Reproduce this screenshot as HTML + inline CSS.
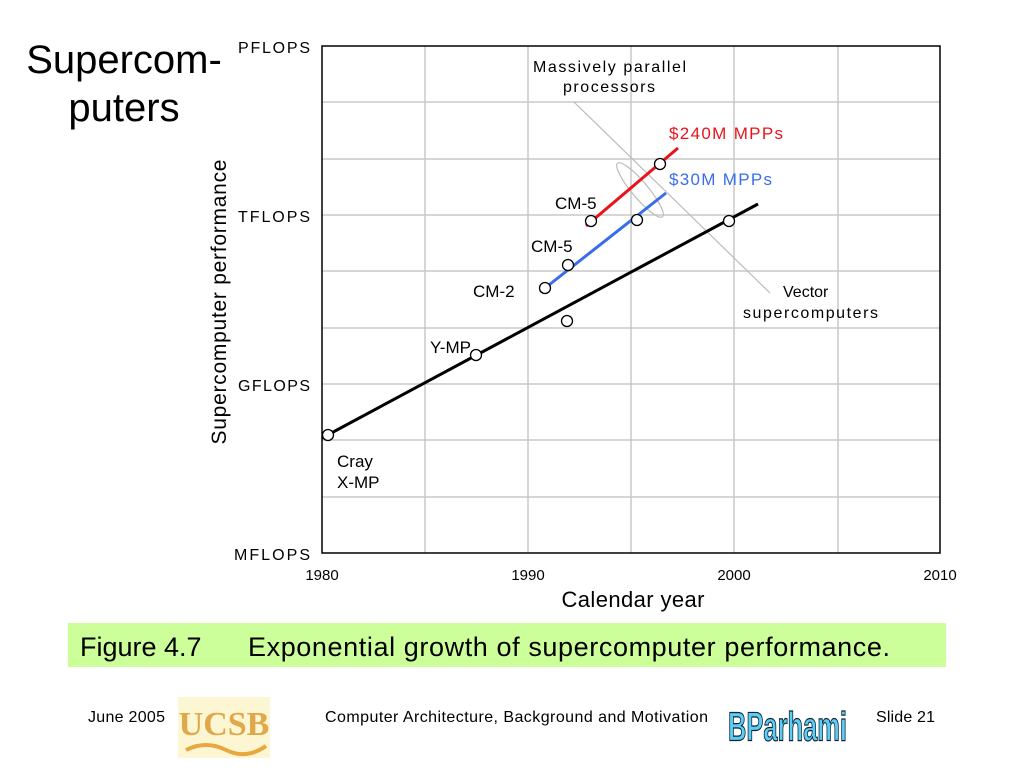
<!DOCTYPE html>
<html><head><style>
body{margin:0;width:1024px;height:768px;background:#fff;font-family:"Liberation Sans",sans-serif;position:relative;overflow:hidden}
.t{position:absolute;white-space:nowrap}
</style></head><body>
<div class="t" style="left:26px;top:36px;font-size:40px;line-height:48px;text-align:center;width:196px">Supercom-<br>puters</div>
<svg width="1024" height="768" style="position:absolute;left:0;top:0" font-family="Liberation Sans, sans-serif">
<g stroke="#c8c8c8" stroke-width="1.5">
<line x1="425" y1="46" x2="425" y2="553"/><line x1="528" y1="46" x2="528" y2="553"/><line x1="631" y1="46" x2="631" y2="553"/><line x1="734" y1="46" x2="734" y2="553"/><line x1="838" y1="46" x2="838" y2="553"/>
<line x1="322" y1="497" x2="940" y2="497"/><line x1="322" y1="440" x2="940" y2="440"/><line x1="322" y1="384" x2="940" y2="384"/><line x1="322" y1="328" x2="940" y2="328"/><line x1="322" y1="271" x2="940" y2="271"/><line x1="322" y1="215" x2="940" y2="215"/><line x1="322" y1="159" x2="940" y2="159"/><line x1="322" y1="102" x2="940" y2="102"/>
</g>
<rect x="322" y="46" width="618" height="507" fill="none" stroke="#000" stroke-width="1.5"/>
<g stroke="#bbb" stroke-width="1.2" fill="none">
<line x1="574" y1="102" x2="770" y2="293"/>
<ellipse cx="640" cy="190" rx="8" ry="35" transform="rotate(-40 640 190)"/>
</g>
<line x1="322" y1="438" x2="758" y2="204" stroke="#000" stroke-width="3"/>
<line x1="540" y1="292" x2="666" y2="193" stroke="#3a6ee8" stroke-width="3"/>
<line x1="586" y1="226" x2="678" y2="148" stroke="#e8141a" stroke-width="3"/>
<g fill="#fff" stroke="#000" stroke-width="1.3">
<circle cx="328" cy="435" r="5.5"/><circle cx="476" cy="355" r="5.5"/><circle cx="567" cy="321" r="5.5"/><circle cx="729" cy="221" r="5.5"/>
<circle cx="545" cy="288" r="5.5"/><circle cx="568" cy="265" r="5.5"/><circle cx="637" cy="220" r="5.5"/>
<circle cx="591" cy="221" r="5.5"/><circle cx="660" cy="164" r="5.5"/>
</g>
<g font-size="16" fill="#000">
<text x="310" y="53" text-anchor="end" textLength="72">PFLOPS</text>
<text x="310" y="222" text-anchor="end" textLength="72">TFLOPS</text>
<text x="310" y="391" text-anchor="end" textLength="72">GFLOPS</text>
<text x="310" y="560" text-anchor="end" textLength="76">MFLOPS</text>
<text x="322" y="580" text-anchor="middle" font-size="15">1980</text>
<text x="528" y="580" text-anchor="middle" font-size="15">1990</text>
<text x="734" y="580" text-anchor="middle" font-size="15">2000</text>
<text x="940" y="580" text-anchor="middle" font-size="15">2010</text>
<text x="337" y="467" font-size="17">Cray</text><text x="337" y="488" font-size="17">X-MP</text>
<text x="430" y="353" font-size="17">Y-MP</text>
<text x="473" y="297" font-size="17">CM-2</text>
<text x="531" y="252" font-size="17">CM-5</text>
<text x="555" y="209" font-size="17">CM-5</text>
<text x="533" y="72" textLength="153">Massively parallel</text>
<text x="563" y="92" textLength="92">processors</text>
<text x="783" y="297">Vector</text>
<text x="743" y="318" textLength="135">supercomputers</text>
<text x="669" y="139" fill="#e8141a" font-size="17" textLength="114">$240M MPPs</text>
<text x="669" y="185" fill="#3a6ee8" font-size="17" textLength="103">$30M MPPs</text>
</g>
<text x="633" y="607" font-size="22" text-anchor="middle" textLength="143">Calendar year</text>
<text transform="translate(226,302) rotate(-90)" font-size="21" text-anchor="middle" textLength="285">Supercomputer performance</text>
<rect x="68" y="623" width="878" height="44" fill="#ccff99"/>
<text x="80" y="656" font-size="27">Figure 4.7</text>
<text x="248" y="656" font-size="27" textLength="642">Exponential growth of supercomputer performance.</text>
<g font-size="16">
<text x="88" y="722" textLength="77">June 2005</text>
<text x="325" y="722" textLength="383">Computer Architecture, Background and Motivation</text>
<text x="876" y="722" textLength="59">Slide 21</text>
</g>
<rect x="178" y="697" width="92" height="61" fill="#fdf6d2"/>
<text x="224" y="735" font-size="34" font-family="Liberation Serif, serif" font-weight="bold" fill="#e0a84a" text-anchor="middle">UCSB</text>
<path d="M186 750 q20 -10 40 0 t40 -4" stroke="#e8a840" stroke-width="4" fill="none"/>
<text x="788" y="742" font-size="34" font-weight="bold" fill="#5ccdf5" stroke="#123" stroke-width="1" text-anchor="middle" transform="scale(0.75 1.2) translate(262 -125)">BParhami</text>
</svg>
</body></html>
